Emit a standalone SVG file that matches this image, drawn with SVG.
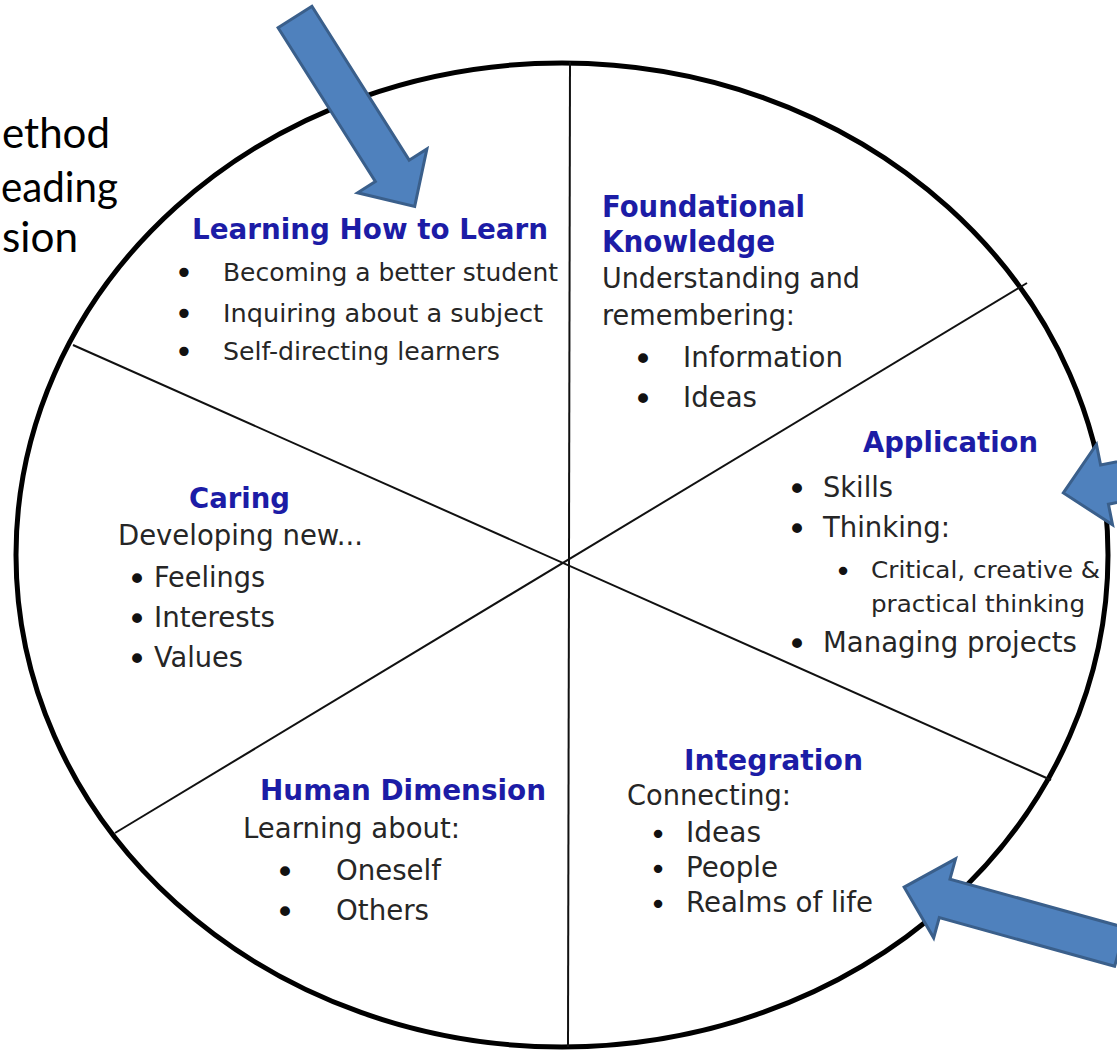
<svg xmlns="http://www.w3.org/2000/svg" width="1117" height="1051" viewBox="0 0 1117 1051">
  <style>
    .slide { font-family: Lato, "Liberation Sans", sans-serif; font-size: 43px; fill: #000; }
    .title { font-family: "DejaVu Sans", Verdana, sans-serif; font-weight: bold; fill: #1c1ca6; }
    .body { font-family: "DejaVu Sans", Verdana, sans-serif; fill: #262626; }
    .dot { font-family: "DejaVu Sans", sans-serif; fill: #111; text-anchor: middle; }
    .rim { fill: none; stroke: #000; stroke-width: 5; }
    .spoke { stroke: #111; stroke-width: 2; fill: none; }
    .pointer { fill: #4f81bd; stroke: #3a5f8b; stroke-width: 3; stroke-linejoin: miter; }
  </style>
  <defs>
    <!-- block arrow pointing along +x, tail at the origin -->
    <polygon id="blockArrow" points="0,-20 182,-20 182,-41 224,0 182,41 182,20 0,20"/>
  </defs>

  <rect width="1117" height="1051" fill="#fff"/>

  <!-- slide text cut at the left edge -->
  <g id="slide-text" class="slide">
    <text x="2" y="148" textLength="108" lengthAdjust="spacingAndGlyphs">ethod</text>
    <text x="1" y="202" textLength="117" lengthAdjust="spacingAndGlyphs">eading</text>
    <text x="2" y="252" textLength="76" lengthAdjust="spacingAndGlyphs">sion</text>
  </g>

  <!-- wheel outline and dividers -->
  <g id="connectors">
    <ellipse class="rim" cx="562" cy="555" rx="546" ry="492"/>
    <line class="spoke" x1="570" y1="62" x2="568" y2="1047"/>
    <line class="spoke" x1="73" y1="345" x2="1051" y2="780"/>
    <line class="spoke" x1="115" y1="833" x2="1027" y2="283"/>
  </g>

  <g id="learning-how-to-learn">
    <text class="title" x="192" y="239" font-size="28" textLength="356" lengthAdjust="spacingAndGlyphs">Learning How to Learn</text>
    <text class="dot" x="184" y="284" font-size="32">•</text>
    <text class="dot" x="184" y="325" font-size="32">•</text>
    <text class="dot" x="184" y="363" font-size="32">•</text>
    <text class="body" x="223" y="281" font-size="24" textLength="335" lengthAdjust="spacingAndGlyphs">Becoming a better student</text>
    <text class="body" x="223" y="322" font-size="24" textLength="320" lengthAdjust="spacingAndGlyphs">Inquiring about a subject</text>
    <text class="body" x="223" y="360" font-size="24" textLength="277" lengthAdjust="spacingAndGlyphs">Self-directing learners</text>
  </g>

  <g id="foundational-knowledge">
    <text class="title" x="602" y="217" font-size="30" textLength="203" lengthAdjust="spacingAndGlyphs">Foundational</text>
    <text class="title" x="602" y="252" font-size="30" textLength="173" lengthAdjust="spacingAndGlyphs">Knowledge</text>
    <text class="body" x="602" y="288" font-size="29" textLength="258" lengthAdjust="spacingAndGlyphs">Understanding and</text>
    <text class="body" x="602" y="325" font-size="29" textLength="193" lengthAdjust="spacingAndGlyphs">remembering:</text>
    <text class="dot" x="643" y="371" font-size="34">•</text>
    <text class="dot" x="643" y="411" font-size="34">•</text>
    <text class="body" x="683" y="367" font-size="29" textLength="160" lengthAdjust="spacingAndGlyphs">Information</text>
    <text class="body" x="683" y="407" font-size="29" textLength="74" lengthAdjust="spacingAndGlyphs">Ideas</text>
  </g>

  <g id="application">
    <text class="title" x="863" y="452" font-size="29" textLength="175" lengthAdjust="spacingAndGlyphs">Application</text>
    <text class="dot" x="797" y="501" font-size="34">•</text>
    <text class="dot" x="797" y="541" font-size="34">•</text>
    <text class="dot" x="843" y="581" font-size="29">•</text>
    <text class="dot" x="797" y="656" font-size="34">•</text>
    <text class="body" x="823" y="497" font-size="29" textLength="70" lengthAdjust="spacingAndGlyphs">Skills</text>
    <text class="body" x="823" y="537" font-size="29" textLength="127" lengthAdjust="spacingAndGlyphs">Thinking:</text>
    <text class="body" x="871" y="578" font-size="23" textLength="229" lengthAdjust="spacingAndGlyphs">Critical, creative &amp;</text>
    <text class="body" x="871" y="612" font-size="23" textLength="214" lengthAdjust="spacingAndGlyphs">practical thinking</text>
    <text class="body" x="823" y="652" font-size="29" textLength="254" lengthAdjust="spacingAndGlyphs">Managing projects</text>
  </g>

  <g id="caring">
    <text class="title" x="189" y="508" font-size="29" textLength="101" lengthAdjust="spacingAndGlyphs">Caring</text>
    <text class="body" x="118" y="545" font-size="29" textLength="245" lengthAdjust="spacingAndGlyphs">Developing new...</text>
    <text class="dot" x="137" y="591" font-size="34">•</text>
    <text class="dot" x="137" y="631" font-size="34">•</text>
    <text class="dot" x="137" y="671" font-size="34">•</text>
    <text class="body" x="154" y="587" font-size="29" textLength="111" lengthAdjust="spacingAndGlyphs">Feelings</text>
    <text class="body" x="154" y="627" font-size="29" textLength="121" lengthAdjust="spacingAndGlyphs">Interests</text>
    <text class="body" x="154" y="667" font-size="29" textLength="89" lengthAdjust="spacingAndGlyphs">Values</text>
  </g>

  <g id="human-dimension">
    <text class="title" x="260" y="800" font-size="29" textLength="286" lengthAdjust="spacingAndGlyphs">Human Dimension</text>
    <text class="body" x="243" y="838" font-size="29" textLength="217" lengthAdjust="spacingAndGlyphs">Learning about:</text>
    <text class="dot" x="285" y="884" font-size="34">•</text>
    <text class="dot" x="285" y="924" font-size="34">•</text>
    <text class="body" x="336" y="880" font-size="29" textLength="105" lengthAdjust="spacingAndGlyphs">Oneself</text>
    <text class="body" x="336" y="920" font-size="29" textLength="93" lengthAdjust="spacingAndGlyphs">Others</text>
  </g>

  <g id="integration">
    <text class="title" x="684" y="770" font-size="29" textLength="179" lengthAdjust="spacingAndGlyphs">Integration</text>
    <text class="body" x="627" y="805" font-size="29" textLength="164" lengthAdjust="spacingAndGlyphs">Connecting:</text>
    <text class="dot" x="658" y="844" font-size="29">•</text>
    <text class="dot" x="658" y="879" font-size="29">•</text>
    <text class="dot" x="658" y="914" font-size="29">•</text>
    <text class="body" x="686" y="842" font-size="29" textLength="75" lengthAdjust="spacingAndGlyphs">Ideas</text>
    <text class="body" x="686" y="877" font-size="29" textLength="92" lengthAdjust="spacingAndGlyphs">People</text>
    <text class="body" x="686" y="912" font-size="29" textLength="187" lengthAdjust="spacingAndGlyphs">Realms of life</text>
  </g>

  <!-- highlight arrows -->
  <g id="arrow-top">
    <use href="#blockArrow" class="pointer" transform="translate(295 17) rotate(57.7)"/>
  </g>
  <g id="arrow-right">
    <use href="#blockArrow" class="pointer" transform="translate(1283 449) rotate(168.7)"/>
  </g>
  <g id="arrow-bottom">
    <use href="#blockArrow" class="pointer" transform="translate(1120 947) rotate(195.5)"/>
  </g>
</svg>
